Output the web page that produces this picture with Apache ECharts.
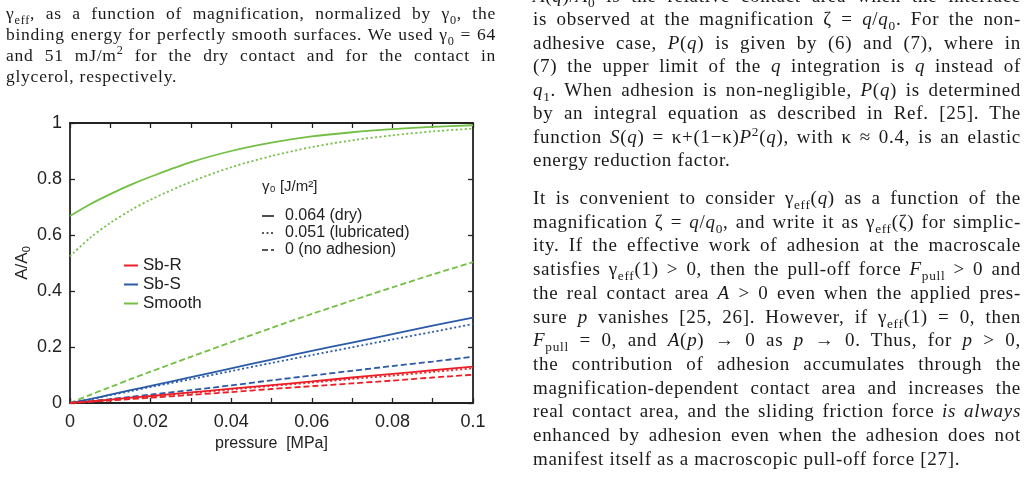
<!DOCTYPE html>
<html>
<head>
<meta charset="utf-8">
<script src="https://cdn.jsdelivr.net/npm/echarts@6/dist/echarts.min.js"></script>
<style>
  html, body { margin: 0; padding: 0; background: #fff; }
  #chart { position: absolute; left: 0; top: 0; width: 1030px; height: 483px; }
  .ln { position: absolute; font-family: "Liberation Serif", serif; color: #1a1a1a;
        text-align: justify; text-align-last: justify; white-space: normal; }
  .ln.end { text-align-last: left; }
  .cap { left: 6px; width: 490px; font-size: 17.5px; line-height: 20px; letter-spacing: 0.75px; }
  .txt { left: 533px; width: 488px; font-size: 19px; line-height: 22px; letter-spacing: 0.7px; }
  sub, sup { font-size: 70%; line-height: 0; }
</style>
</head>
<body>
<div id="chart"></div>

<!-- 左栏图注 -->
<div class="ln cap" style="top:3px">γ<sub>eff</sub>, as a function of magnification, normalized by γ<sub>0</sub>, the</div>
<div class="ln cap" style="top:24px">binding energy for perfectly smooth surfaces. We used γ<sub>0</sub> = 64</div>
<div class="ln cap" style="top:45px">and 51 mJ/m<sup>2</sup> for the dry contact and for the contact in</div>
<div class="ln cap end" style="top:66px">glycerol, respectively.</div>

<!-- 右栏正文 -->
<div class="ln txt" style="top:-15px"><i>A</i>(<i>q</i>)/<i>A</i><sub>0</sub> is the relative contact area when the interface</div>
<div class="ln txt" style="top:8px">is observed at the magnification ζ = <i>q</i>/<i>q</i><sub>0</sub>. For the non-</div>
<div class="ln txt" style="top:32px">adhesive case, <i>P</i>(<i>q</i>) is given by (6) and (7), where in</div>
<div class="ln txt" style="top:55px">(7) the upper limit of the <i>q</i> integration is <i>q</i> instead of</div>
<div class="ln txt" style="top:79px"><i>q</i><sub>1</sub>. When adhesion is non-negligible, <i>P</i>(<i>q</i>) is determined</div>
<div class="ln txt" style="top:102px">by an integral equation as described in Ref. [25]. The</div>
<div class="ln txt" style="top:126px">function <i>S</i>(<i>q</i>) = κ+(1−κ)<i>P</i><sup>2</sup>(<i>q</i>), with κ ≈ 0.4, is an elastic</div>
<div class="ln txt end" style="top:149px">energy reduction factor.</div>

<div class="ln txt" style="top:187px">It is convenient to consider γ<sub>eff</sub>(<i>q</i>) as a function of the</div>
<div class="ln txt" style="top:211px">magnification ζ = <i>q</i>/<i>q</i><sub>0</sub>, and write it as γ<sub>eff</sub>(ζ) for simplic-</div>
<div class="ln txt" style="top:234px">ity. If the effective work of adhesion at the macroscale</div>
<div class="ln txt" style="top:258px">satisfies γ<sub>eff</sub>(1) &gt; 0, then the pull-off force <i>F</i><sub>pull</sub> &gt; 0 and</div>
<div class="ln txt" style="top:282px">the real contact area <i>A</i> &gt; 0 even when the applied pres-</div>
<div class="ln txt" style="top:306px">sure <i>p</i> vanishes [25, 26]. However, if γ<sub>eff</sub>(1) = 0, then</div>
<div class="ln txt" style="top:329px"><i>F</i><sub>pull</sub> = 0, and <i>A</i>(<i>p</i>) → 0 as <i>p</i> → 0. Thus, for <i>p</i> &gt; 0,</div>
<div class="ln txt" style="top:353px">the contribution of adhesion accumulates through the</div>
<div class="ln txt" style="top:377px">magnification-dependent contact area and increases the</div>
<div class="ln txt" style="top:400px">real contact area, and the sliding friction force <i>is always</i></div>
<div class="ln txt" style="top:424px">enhanced by adhesion even when the adhesion does not</div>
<div class="ln txt end" style="top:448px">manifest itself as a macroscopic pull-off force [27].</div>

<script>
// 横坐标：压力 [MPa]
var pressure = [0, 0.005, 0.01, 0.015, 0.02, 0.03, 0.04, 0.05, 0.06, 0.07, 0.08, 0.09, 0.1];

// Smooth
var smoothDry   = [0.668, 0.71, 0.746, 0.779, 0.808, 0.86, 0.9, 0.93, 0.952, 0.967, 0.978, 0.986, 0.992];
var smoothLub   = [0.524, 0.59, 0.643, 0.688, 0.726, 0.79, 0.842, 0.882, 0.914, 0.938, 0.956, 0.97, 0.98];
var smoothNoAdh = [0, 0.029, 0.057, 0.085, 0.112, 0.165, 0.217, 0.268, 0.318, 0.366, 0.413, 0.459, 0.503];
// Sb-S
var sbsDry   = [0, 0.014, 0.03, 0.046, 0.061, 0.092, 0.124, 0.155, 0.186, 0.216, 0.246, 0.276, 0.305];
var sbsLub   = [0, 0.013, 0.028, 0.042, 0.057, 0.085, 0.114, 0.143, 0.171, 0.199, 0.227, 0.254, 0.282];
var sbsNoAdh = [0, 0.006, 0.014, 0.022, 0.03, 0.046, 0.063, 0.081, 0.098, 0.115, 0.132, 0.148, 0.165];
// Sb-R
var sbrDry   = [0, 0.006, 0.012, 0.019, 0.025, 0.038, 0.051, 0.064, 0.077, 0.091, 0.104, 0.117, 0.13];
var sbrLub   = [0, 0.005, 0.011, 0.017, 0.023, 0.036, 0.048, 0.061, 0.073, 0.086, 0.098, 0.111, 0.124];
var sbrNoAdh = [0, 0.004, 0.009, 0.014, 0.019, 0.029, 0.039, 0.05, 0.06, 0.07, 0.08, 0.091, 0.101];

// 刻度标签
var xTickLabels = ['0', '0.02', '0.04', '0.06', '0.08', '0.1'];
var yTickLabels = ['0', '0.2', '0.4', '0.6', '0.8', '1'];

// 图例
var surfaces = ['Sb-R', 'Sb-S', 'Smooth'];
var gammaTitle = 'γ₀ [J/m²]';
var gammaLabels = ['0.064 (dry)', '0.051 (lubricated)', '0 (no adhesion)'];

var colors = { 'Sb-R': '#ec1f26', 'Sb-S': '#2a5aa8', 'Smooth': '#72bf44' };
var styles = ['solid', [2, 2.5], [6, 3]];

function pairs(ys) {
    return pressure.map(function (x, i) { return [x, ys[i]]; });
}

function curve(name, ys, k) {
    return {
        name: name,
        type: 'line',
        data: pairs(ys),
        smooth: 0.3,
        symbol: 'none',
        silent: true,
        lineStyle: { color: colors[name], width: 1.8, type: styles[k] },
        itemStyle: { color: colors[name] }
    };
}

var series = [
    curve('Smooth', smoothDry, 0), curve('Smooth', smoothLub, 1), curve('Smooth', smoothNoAdh, 2),
    curve('Sb-S', sbsDry, 0), curve('Sb-S', sbsLub, 1), curve('Sb-S', sbsNoAdh, 2),
    curve('Sb-R', sbrDry, 0), curve('Sb-R', sbrLub, 1), curve('Sb-R', sbrNoAdh, 2)
];

var font = 'Liberation Sans, Arial, sans-serif';
var axisFont = { fontFamily: font, color: '#222' };

// 线型图例（黑色）
var legendKeys = [{
    type: 'text', left: 262, top: 179,
    style: { text: gammaTitle, fontSize: 15, fontFamily: font, fill: '#222' }
}];
gammaLabels.forEach(function (g, k) {
    var y = 216 + k * 17;
    legendKeys.push({
        type: 'line', shape: { x1: 262, y1: y, x2: 274, y2: y },
        style: { stroke: '#222', lineWidth: 1.6, lineDash: k === 0 ? null : styles[k] }
    });
    legendKeys.push({
        type: 'text', x: 285, y: y,
        style: { text: g, fontSize: 16, fontFamily: font, fill: '#222', verticalAlign: 'middle' }
    });
});

function ticks() {
    return { show: true, inside: true, length: 5, lineStyle: { color: '#222', width: 1.3 } };
}
function frameLine() {
    return { show: true, onZero: false, lineStyle: { color: '#222', width: 1.8 } };
}

var chart = echarts.init(document.getElementById('chart'));
chart.setOption({
    animation: false,
    backgroundColor: 'transparent',
    grid: { left: 70, right: 557, top: 123, bottom: 80 },
    graphic: legendKeys,
    legend: {
        data: surfaces,
        orient: 'vertical',
        left: 119, top: 251,
        icon: 'rect', itemWidth: 14, itemHeight: 2, itemGap: 0,
        selectedMode: false,
        textStyle: Object.assign({ fontSize: 17, lineHeight: 19 }, axisFont)
    },
    xAxis: [{
        type: 'value', min: 0, max: 0.1, interval: 0.01,
        name: 'pressure  [MPa]', nameLocation: 'middle', nameGap: 31,
        nameTextStyle: Object.assign({ fontSize: 16 }, axisFont),
        axisLine: frameLine(), splitLine: { show: false },
        axisTick: ticks(),
        axisLabel: Object.assign({
            fontSize: 18, margin: 10,
            formatter: function (v) {
                var n = Math.round(v * 100);
                return n % 2 === 0 ? xTickLabels[n / 2] : '';
            }
        }, axisFont)
    }, {
        type: 'value', min: 0, max: 0.1, interval: 0.01, position: 'top',
        axisLine: frameLine(), splitLine: { show: false },
        axisTick: ticks(), axisLabel: { show: false }
    }],
    yAxis: [{
        type: 'value', min: 0, max: 1, interval: 0.2,
        name: '{a|A/A}{s|0}', nameLocation: 'middle', nameGap: 38,
        nameTextStyle: {
            rich: {
                a: Object.assign({ fontSize: 17 }, axisFont),
                s: Object.assign({ fontSize: 11, verticalAlign: 'bottom', padding: [8, 0, 0, 0] }, axisFont)
            }
        },
        axisLine: frameLine(), splitLine: { show: false },
        axisTick: ticks(),
        axisLabel: Object.assign({
            fontSize: 18, margin: 8,
            formatter: function (v) { return yTickLabels[Math.round(v * 5)]; }
        }, axisFont)
    }, {
        type: 'value', min: 0, max: 1, interval: 0.2, position: 'right',
        axisLine: frameLine(), splitLine: { show: false },
        axisTick: ticks(), axisLabel: { show: false }
    }],
    series: series
});
</script>
</body>
</html>
